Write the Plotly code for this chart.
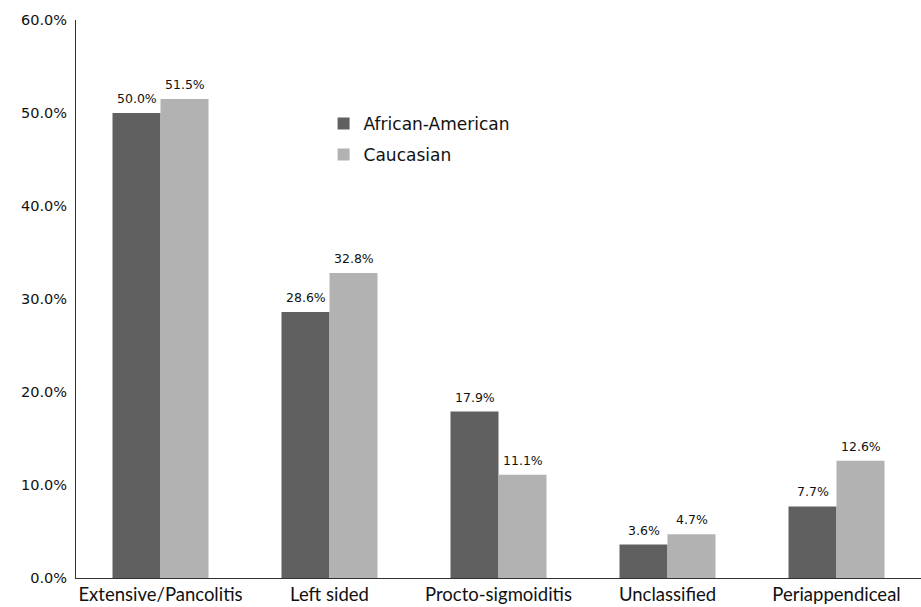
import plotly.graph_objects as go

# Distribution of disease extent by race
categories = ["Extensive/Pancolitis", "Left sided", "Procto-sigmoiditis", "Unclassified", "Periappendiceal"]
african_american = [0.500, 0.286, 0.179, 0.036, 0.077]
caucasian = [0.515, 0.328, 0.111, 0.047, 0.126]
y_ticks = [0.0, 0.1, 0.2, 0.3, 0.4, 0.5, 0.6]

DARK = "#606060"
LIGHT = "#b2b2b2"
LABEL_FONT = dict(family="DejaVu Sans", size=12.5, color="#111111")

fig = go.Figure()
fig.add_trace(go.Bar(x=categories, y=african_american, name="African-American",
                     marker=dict(color=DARK, line=dict(width=0)), legendgroup="aa"))
fig.add_trace(go.Bar(x=categories, y=caucasian, name="Caucasian",
                     marker=dict(color=LIGHT, line=dict(width=0)), legendgroup="ca"))

# value labels above each bar
annotations = []
for series, dx in ((african_american, -24), (caucasian, 24)):
    for cat, val in zip(categories, series):
        annotations.append(dict(x=cat, y=val, xref="x", yref="y", text=f"{val:.1%}",
                                showarrow=False, xanchor="center", yanchor="bottom",
                                xshift=dx, yshift=5, font=LABEL_FONT))

fig.update_layout(
    width=921, height=607,
    margin=dict(l=76, r=0, t=20, b=29),
    paper_bgcolor="white", plot_bgcolor="white",
    barmode="group", bargap=0.432, bargroupgap=0,
    showlegend=True,
    legend=dict(x=0.293, y=0.846, xanchor="left", yanchor="top",
                font=dict(family="DejaVu Sans", size=17, color="#111111"),
                bgcolor="rgba(0,0,0,0)", tracegroupgap=6, traceorder="grouped"),
    annotations=annotations,
    xaxis=dict(showline=True, linecolor="#333333", linewidth=1, ticks="",
               tickfont=dict(family="Lato", size=18.5, color="#111111"),
               showgrid=False, zeroline=False, fixedrange=True),
    yaxis=dict(range=[0, 0.6], tickvals=y_ticks, tickformat=".1%",
               showline=True, linecolor="#333333", linewidth=1, ticks="",
               tickfont=dict(family="DejaVu Sans", size=14.5, color="#111111"),
               ticklabelstandoff=5,
               showgrid=False, zeroline=False, fixedrange=True),
)

fig.write_html("out.html")
